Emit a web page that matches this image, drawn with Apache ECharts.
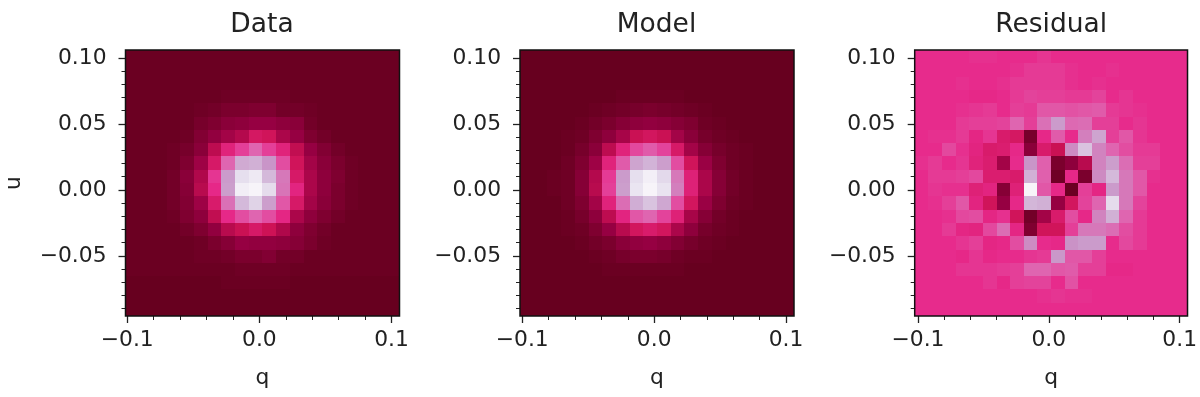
<!DOCTYPE html>
<html>
<head>
<meta charset="utf-8">
<title>Data, Model, Residual</title>
<style>
  html, body { margin: 0; padding: 0; background: #fff; }
  #main { width: 1200px; height: 397px; }
  #main canvas { filter: blur(0.5px); }
</style>
<script src="https://cdn.jsdelivr.net/npm/echarts@6/dist/echarts.min.js"></script>
</head>
<body>
<div id="main"></div>
<script>
// colour level of each cell (0-100 along the reversed PuRd map), top row first
const dataLevels = [
  [1,1,1,1,1,1,1,1,1,1,1,1,1,1,1,1,1,1,1,1],
  [1,1,1,1,1,1,1,1,1,1,1,1,1,1,1,1,1,1,1,1],
  [1,1,1,1,1,1,1,1,1,1,1,1,1,1,1,1,1,1,1,1],
  [1,1,1,1,1,1,1,2,2,2,2,2,1,1,1,1,1,1,1,1],
  [1,1,1,1,1,2,3,5,5,6,6,3,3,2,1,1,1,1,1,1],
  [1,1,1,1,1,4,6,9,10,12,12,10,9,3,1,1,1,1,1,1],
  [1,1,1,1,2,7,11,15,19,28,26,17,12,6,3,1,1,1,1,1],
  [1,1,1,2,4,9,21,34,42,50,42,34,22,12,7,3,1,1,1,1],
  [1,1,1,2,6,14,29,50,70,72,63,45,26,15,9,5,2,1,1,1],
  [1,1,1,3,9,18,40,65,87,93,75,55,29,17,10,6,2,1,1,1],
  [1,1,1,3,8,20,37,66,96,100,86,54,35,17,10,5,2,1,1,1],
  [1,1,1,3,7,14,30,53,75,83,66,47,29,15,9,5,2,1,1,1],
  [1,1,1,2,6,10,22,37,45,50,45,36,17,10,6,3,1,1,1,1],
  [1,1,1,1,3,6,11,20,24,29,25,18,10,6,3,1,1,1,1,1],
  [1,1,1,1,1,2,5,8,12,11,11,10,8,5,2,1,1,1,1,1],
  [1,1,1,1,1,2,2,3,5,5,7,3,3,1,1,1,1,1,1,1],
  [1,1,1,1,1,1,1,1,2,2,2,2,1,1,1,1,1,1,1,1],
  [0,0,0,0,0,0,0,1,1,1,1,1,0,0,0,0,0,0,0,0],
  [0,0,0,0,0,0,0,0,0,0,0,0,0,0,0,0,0,0,0,0],
  [0,0,0,0,0,0,0,0,0,0,0,0,0,0,0,0,0,0,0,0]
];

const modelLevels = [
  [0,0,0,0,0,0,0,0,0,0,0,0,0,0,0,0,0,0,0,0],
  [0,0,0,0,0,0,0,0,0,0,0,0,0,0,0,0,0,0,0,0],
  [0,0,0,0,0,0,0,0,0,0,0,0,0,0,0,0,0,0,0,0],
  [0,0,0,0,0,0,0,1,1,1,1,1,0,0,0,0,0,0,0,0],
  [0,0,0,0,0,1,2,3,4,5,4,3,2,1,0,0,0,0,0,0],
  [0,0,0,0,1,3,5,8,10,11,10,8,6,2,1,0,0,0,0,0],
  [0,0,0,1,2,6,10,16,24,27,24,15,9,4,2,1,0,0,0,0],
  [0,0,0,1,4,9,21,34,44,48,43,29,15,8,4,2,1,0,0,0],
  [0,0,0,2,6,14,34,48,68,73,66,45,26,13,6,2,1,0,0,0],
  [0,0,1,2,8,19,41,65,87,97,85,55,33,17,8,3,1,0,0,0],
  [0,0,1,2,8,20,42,66,90,100,89,57,33,17,8,3,1,0,0,0],
  [0,0,0,2,6,15,34,52,71,78,69,45,27,13,6,2,1,0,0,0],
  [0,0,0,1,4,10,21,35,47,50,43,33,16,8,3,1,0,0,0,0],
  [0,0,0,1,2,6,12,20,27,30,27,17,10,4,2,1,0,0,0,0],
  [0,0,0,0,1,3,5,9,11,12,10,7,4,2,1,0,0,0,0,0],
  [0,0,0,0,0,1,2,4,5,5,4,2,1,1,0,0,0,0,0,0],
  [0,0,0,0,0,0,1,1,1,1,1,1,0,0,0,0,0,0,0,0],
  [0,0,0,0,0,0,0,0,0,0,0,0,0,0,0,0,0,0,0,0],
  [0,0,0,0,0,0,0,0,0,0,0,0,0,0,0,0,0,0,0,0],
  [0,0,0,0,0,0,0,0,0,0,0,0,0,0,0,0,0,0,0,0]
];

const residualLevels = [
  [38,38,38,38,39,39,38,38,38,40,38,38,38,38,38,38,38,38,38,38],
  [38,38,38,38,38,38,38,39,41,41,41,39,38,38,39,38,38,38,38,38],
  [38,38,38,39,38,38,39,41,41,41,41,39,38,39,38,38,38,38,38,38],
  [38,38,38,38,37,37,38,41,43,42,42,41,41,43,38,40,38,38,38,38],
  [38,38,38,39,40,41,38,42,41,47,47,46,47,48,41,40,39,38,38,38],
  [38,38,38,41,42,42,43,50,42,53,65,51,52,42,42,38,40,38,38,38],
  [38,39,39,41,36,40,30,28,4,37,48,38,57,68,42,47,40,38,38,38],
  [38,38,44,39,35,30,31,37,9,30,24,60,78,58,50,45,41,41,38,38],
  [39,41,38,40,34,31,15,38,63,49,5,10,20,58,66,52,42,42,38,38],
  [38,41,41,42,44,31,31,30,72,49,2,37,5,60,75,55,47,39,38,38],
  [38,40,39,39,33,35,8,33,100,47,37,1,42,36,65,55,47,38,38,38],
  [38,39,42,47,35,26,12,37,74,72,12,27,43,50,86,55,43,38,38,38],
  [38,38,39,44,45,36,39,26,3,15,30,45,37,58,72,50,41,38,38,38],
  [38,38,41,36,35,44,52,36,6,26,26,42,55,55,52,45,41,38,38,38],
  [38,38,38,40,42,36,37,45,60,38,37,62,65,65,38,44,41,38,38,38],
  [38,38,38,37,40,37,38,38,40,41,64,47,47,42,38,38,38,38,38,38],
  [38,38,38,40,40,40,41,42,50,50,47,48,42,42,37,37,38,38,38,38],
  [38,38,38,38,38,40,37,42,43,43,38,46,38,38,38,38,38,38,38,38],
  [38,38,38,38,38,38,38,38,38,39,40,39,39,38,38,38,38,38,38,38],
  [38,38,38,38,38,38,38,38,38,38,38,38,38,38,38,38,38,38,38,38]
];

const panelTitles = ['Data', 'Model', 'Residual'];
const panelLevels = [dataLevels, modelLevels, residualLevels];
const qStarts = [-0.1013, -0.1017, -0.1025];
const qEnd = 0.106;
const uStart = -0.0955;
const uEnd = 0.106;

const qTicks = [-0.1, 0, 0.1];
const qMinorTicks = [-0.08, -0.06, -0.04, -0.02, 0.02, 0.04, 0.06, 0.08];
const uTicks = [-0.05, 0, 0.05, 0.1];
const uMinorTicks = [-0.09, -0.08, -0.07, -0.06, -0.04, -0.03, -0.02, -0.01, 0.01, 0.02, 0.03, 0.04, 0.06, 0.07, 0.08, 0.09];
const purdReversed = ['#67001f', '#980043', '#ce1256', '#e7298a', '#df65b0', '#c994c7', '#d4b9da', '#e7e1ef', '#f7f4f9'];

const FONT = '"DejaVu Sans"';
const gridLefts = [125.5, 520, 914.7];
const gridWidth = 274;
const gridTop = 50;
const gridHeight = 266;
const tickColor = '#222';
const tickFont = 21.8;

const minusFmt = digits => v => v.toFixed(digits).replace('-', '\u2212');

const renderCell = (params, api) => {
  const a = api.coord([api.value(0), api.value(1)]);
  const b = api.coord([api.value(3), api.value(4)]);
  return {
    type: 'rect',
    shape: {
      x: Math.round(a[0]),
      y: Math.round(a[1]),
      width: Math.round(b[0]) - Math.round(a[0]),
      height: Math.round(b[1]) - Math.round(a[1])
    },
    style: { fill: api.visual('color') }
  };
};

const cellsOf = (levels, qStart) => {
  const qStep = (qEnd - qStart) / 20;
  const uStep = (uEnd - uStart) / 20;
  const out = [];
  levels.forEach((row, r) => {
    row.forEach((level, c) => {
      const q0 = qStart + c * qStep;
      const u0 = uEnd - r * uStep;
      out.push([q0, u0, level, q0 + qStep, u0 - uStep]);
    });
  });
  return out;
};

const grid = [], xAxis = [], yAxis = [], series = [], title = [];

panelTitles.forEach((name, i) => {
  grid.push({
    show: true, z: 5,
    left: gridLefts[i], top: gridTop, width: gridWidth, height: gridHeight,
    backgroundColor: 'transparent', borderColor: '#111', borderWidth: 1.5
  });
  title.push({
    text: name,
    padding: 0,
    left: gridLefts[i] + gridWidth / 2 - 0.5,
    top: 12,
    textAlign: 'center',
    textStyle: { fontFamily: FONT, fontSize: 26.5, fontWeight: 'normal', color: '#222' }
  });

  const xBase = {
    gridIndex: i, type: 'value', position: 'bottom',
    min: qStarts[i], max: qEnd,
    axisLine: { show: false, onZero: false }, splitLine: { show: false }, minorTick: { show: false }
  };
  const yBase = {
    gridIndex: i, type: 'value', position: 'left',
    min: uStart, max: uEnd,
    axisLine: { show: false, onZero: false }, splitLine: { show: false }, minorTick: { show: false }
  };

  xAxis.push(Object.assign({}, xBase, {
    name: 'q', nameLocation: 'middle', nameGap: 51,
    nameTextStyle: { fontFamily: FONT, fontSize: tickFont, color: '#222' },
    axisTick: { show: true, length: 7, customValues: qTicks, lineStyle: { color: tickColor, width: 1.3 } },
    axisLabel: {
      show: true, customValues: qTicks, margin: 13, hideOverlap: false,
      fontFamily: FONT, fontSize: tickFont, color: '#222', formatter: minusFmt(1)
    }
  }));
  xAxis.push(Object.assign({}, xBase, {
    axisTick: { show: true, length: 4, customValues: qMinorTicks, lineStyle: { color: tickColor, width: 1 } },
    axisLabel: { show: false }
  }));

  yAxis.push(Object.assign({}, yBase, i === 0 ? {
    name: 'u', nameLocation: 'middle', nameGap: 100,
    nameTextStyle: { fontFamily: FONT, fontSize: tickFont, color: '#222' }
  } : {}, {
    axisTick: { show: true, length: 7, customValues: uTicks, lineStyle: { color: tickColor, width: 1.3 } },
    axisLabel: {
      show: true, customValues: uTicks, margin: 19, hideOverlap: false, padding: [4, 0, 0, 0],
      fontFamily: FONT, fontSize: tickFont, color: '#222', formatter: minusFmt(2)
    }
  }));
  yAxis.push(Object.assign({}, yBase, {
    axisTick: { show: true, length: 4, customValues: uMinorTicks, lineStyle: { color: tickColor, width: 1 } },
    axisLabel: { show: false }
  }));

  series.push({
    type: 'custom',
    name: name,
    xAxisIndex: i * 2,
    yAxisIndex: i * 2,
    silent: true,
    clip: true,
    encode: { x: 0, y: 1 },
    renderItem: renderCell,
    data: cellsOf(panelLevels[i], qStarts[i])
  });
});

const chart = echarts.init(document.getElementById('main'), null, { renderer: 'canvas' });
chart.setOption({
  animation: false,
  backgroundColor: '#fff',
  title, grid, xAxis, yAxis, series,
  visualMap: {
    show: false, type: 'continuous', min: 0, max: 100, dimension: 2,
    seriesIndex: [0, 1, 2],
    inRange: { color: purdReversed }
  },
  tooltip: { show: false }
});
</script>
</body>
</html>
